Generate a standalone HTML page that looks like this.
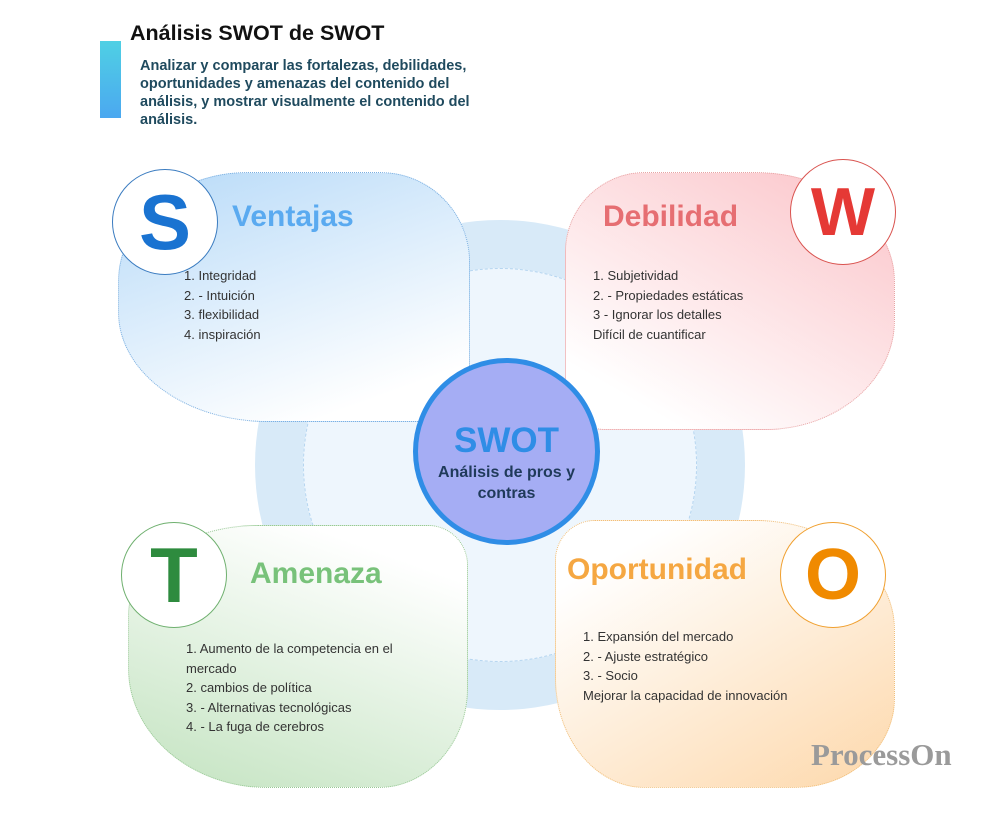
<!DOCTYPE html>
<html><head><meta charset="utf-8"><style>
body{margin:0;width:1000px;height:816px;background:#fff;position:relative;overflow:hidden;font-family:"Liberation Sans","DejaVu Sans",sans-serif}
.a{position:absolute}
.blob{position:absolute;box-sizing:border-box}
.h{position:absolute;font-weight:bold;font-size:30px}
.l{position:absolute;font-size:13px;line-height:19.5px;color:#333}
.c{position:absolute;width:106px;height:106px;border-radius:50%;background:#fff;box-sizing:border-box;text-align:center;font-weight:bold;font-size:78px;line-height:104px}
</style></head><body>
<div class="a" style="left:100px;top:41px;width:21px;height:77px;background:linear-gradient(#4fd0e4,#4ba8f0)"></div>
<div class="a" style="left:130px;top:21px;font-size:21.5px;font-weight:bold;color:#111">Análisis SWOT de SWOT</div>
<div class="a" style="left:140px;top:57px;width:420px;font-size:14.5px;line-height:18px;font-weight:bold;color:#1f4a5e;white-space:nowrap">Analizar y comparar las fortalezas, debilidades,<br>oportunidades y amenazas del contenido del<br>análisis, y mostrar visualmente el contenido del<br>análisis.</div>

<div class="a" style="left:255px;top:220px;width:490px;height:490px;border-radius:50%;background:#d8eaf8"></div>
<div class="a" style="left:303px;top:268px;width:394px;height:394px;border-radius:50%;background:#eef6fd;border:1px dashed #b5d5f0;box-sizing:border-box"></div>

<div class="blob" style="left:118px;top:172px;width:352px;height:250px;border-radius:130px 90px 40px 150px/110px 90px 40px 110px;background:linear-gradient(160deg,#b7daf8,#ffffff 85%);border:1px dotted #7aaee0"></div>
<div class="blob" style="left:565px;top:172px;width:330px;height:258px;border-radius:80px 140px 130px 40px/80px 110px 110px 40px;background:linear-gradient(210deg,#fbc3c8,#ffffff 85%);border:1px dotted #e7a3a3"></div>
<div class="blob" style="left:128px;top:525px;width:340px;height:263px;border-radius:130px 40px 90px 140px/90px 40px 100px 120px;background:linear-gradient(20deg,#c3e3c0,#ffffff 85%);border:1px dotted #98c895"></div>
<div class="blob" style="left:555px;top:520px;width:340px;height:268px;border-radius:40px 140px 100px 90px/40px 110px 90px 110px;background:linear-gradient(330deg,#fdd8ab,#ffffff 85%);border:1px dotted #f0bf7a"></div>

<div class="h" style="left:232px;top:200px;color:#5aaaf0">Ventajas</div>
<div class="h" style="left:603px;top:200px;color:#e66e72">Debilidad</div>
<div class="h" style="left:250px;top:557px;color:#78c27a">Amenaza</div>
<div class="h" style="left:567px;top:553px;color:#f5a742">Oportunidad</div>

<div class="l" style="left:184px;top:266px">1. Integridad<br>2. - Intuición<br>3. flexibilidad<br>4. inspiración</div>
<div class="l" style="left:593px;top:266px">1. Subjetividad<br>2. - Propiedades estáticas<br>3 - Ignorar los detalles<br>Difícil de cuantificar</div>
<div class="l" style="left:186px;top:639px;width:240px">1. Aumento de la competencia en el mercado<br>2. cambios de política<br>3. - Alternativas tecnológicas<br>4. - La fuga de cerebros</div>
<div class="l" style="left:583px;top:627px">1. Expansión del mercado<br>2. - Ajuste estratégico<br>3. - Socio<br>Mejorar la capacidad de innovación</div>

<div class="c" style="left:112px;top:169px;border:1.5px solid #3b7cc0;color:#1a73d1">S</div>
<div class="c" style="left:790px;top:159px;border:1.5px solid #d9534f;color:#e53935;font-size:68px">W</div>
<div class="c" style="left:121px;top:522px;border:1.5px solid #6fb06f;color:#2e8b3e">T</div>
<div class="c" style="left:780px;top:522px;border:1.5px solid #f0a030;color:#f08a00;font-size:72px">O</div>

<div class="a" style="left:413px;top:358px;width:187px;height:187px;border-radius:50%;background:#a5adf4;border:5px solid #2f8de6;box-sizing:border-box;text-align:center">
<div style="margin-top:60px;font-size:35px;font-weight:bold;color:#2f8de6;line-height:36px">SWOT</div>
<div style="font-size:16px;font-weight:bold;color:#1f3a5a;line-height:21px;margin-top:3px">Análisis de pros y<br>contras</div></div>

<div class="a" style="left:811px;top:737px;font-family:'Liberation Serif',serif;font-weight:bold;font-size:31px;color:#9a9a9a">ProcessOn</div>
</body></html>
